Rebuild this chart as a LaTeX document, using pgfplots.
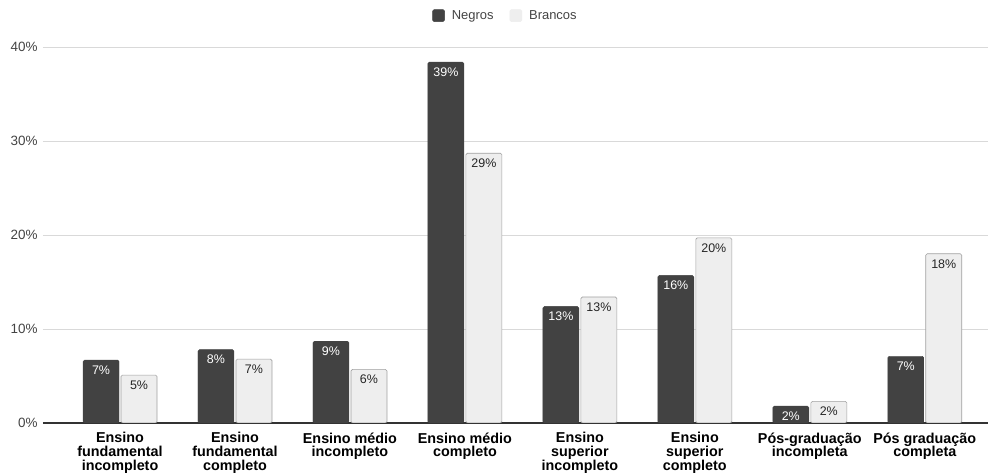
\documentclass[border=0pt]{standalone}
\usepackage{pgfplots}
\pgfplotsset{compat=1.18}
\usepackage{pgfplotstable}
\usepackage{fontspec}
\setmainfont{Liberation Sans}
\definecolor{negro}{HTML}{424242}
\definecolor{branco}{HTML}{EEEEEE}
\definecolor{brancoedge}{HTML}{A0A0A0}
\definecolor{gridc}{HTML}{D9D9D9}
\definecolor{tickc}{HTML}{444444}
\pgfplotstableread{
x neg nlab bra blab
0 6.7 7 5.1 5
1 7.8 8 6.8 7
2 8.7 9 5.7 6
3 38.4 39 28.7 29
4 12.4 13 13.4 13
5 15.7 16 19.7 20
6 1.8 2 2.3 2
7 7.1 7 18.0 18
}\data
\begin{document}
\begin{tikzpicture}
\begin{axis}[
  scale only axis,
  width=945bp, height=376bp,
  ybar=2bp, bar width=36bp,
  xmin=-0.67, xmax=7.55,
  ymin=0, ymax=40,
  enlargelimits=false,
  axis line style={draw=none},
  major tick length=0pt,
  ytick={0,10,20,30,40},
  yticklabel={\pgfmathprintnumber{\tick}\%},
  /pgf/number format/assume math mode=true,
  yticklabel style={font=\fontsize{13.5}{15}\selectfont, text=tickc, anchor=east, xshift=-2bp},
  ymajorgrids, grid style={gridc, line width=0.8bp},
  extra y ticks={0}, extra y tick labels={},
  extra y tick style={grid style={black!80, line width=1.2bp}},
  xtick={0,...,7},
  xticklabels={{Ensino\\fundamental\\incompleto},{Ensino\\fundamental\\completo},{Ensino médio\\incompleto},{Ensino médio\\completo},{Ensino\\superior\\incompleto},{Ensino\\superior\\completo},{Pós-graduação\\incompleta},{Pós graduação\\completa}},
  xticklabel style={align=center, font=\bfseries\fontsize{14.4}{13.8}\selectfont, text=black, yshift=-6bp},
  legend style={draw=none, at={(0.5,1)}, anchor=south, xshift=-10bp, yshift=22bp, legend columns=2,
    font=\fontsize{13}{15}\selectfont, text=tickc,
    /tikz/every odd column/.append style={column sep=5bp},
    /tikz/every even column/.append style={column sep=14bp}},
  nodes near coords={\pgfplotspointmeta\%},
  point meta=explicit symbolic,
  every node near coord/.append style={font=\fontsize{12.5}{14}\selectfont, anchor=north, yshift=-2bp},
]
\addplot[fill=negro, draw=negro, rounded corners=1.5bp, nodes near coords style={text=white},
  legend image code/.code={\fill[negro] (0bp,-6bp) rectangle (12bp,6bp);}] table[x=x, y=neg, meta=nlab] {\data};
\addplot[fill=branco, draw=brancoedge, line width=0.6bp, rounded corners=1.5bp, nodes near coords style={text=black!85},
  legend image code/.code={\fill[branco] (0bp,-6bp) rectangle (12bp,6bp);}] table[x=x, y=bra, meta=blab] {\data};
\legend{Negros, Brancos}
\end{axis}
\pgfresetboundingbox
\path ([xshift=-43bp,yshift=-51bp]current axis.south west) rectangle ([xshift=1bp,yshift=47bp]current axis.north east);
\end{tikzpicture}
\end{document}
